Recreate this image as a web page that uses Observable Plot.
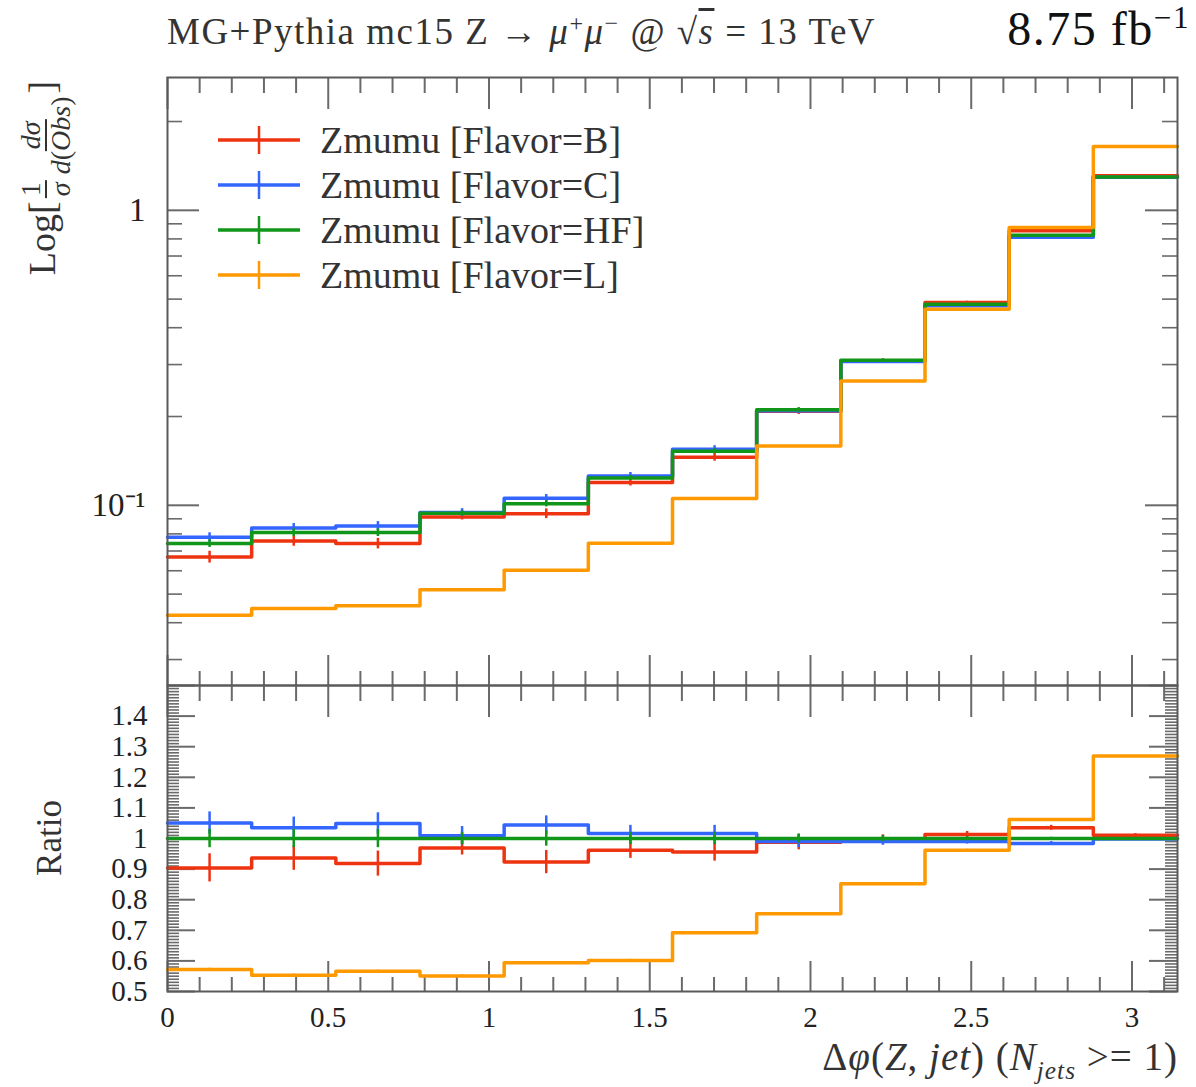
<!DOCTYPE html>
<html>
<head>
<meta charset="utf-8">
<script src="https://cdn.jsdelivr.net/npm/d3@7"></script>
<script src="https://cdn.jsdelivr.net/npm/@observablehq/plot@0.6"></script>
<style>
  body { margin: 0; background: #fff; }
  #wrap { position: relative; width: 1196px; height: 1087px; font-family: "Liberation Serif", serif; color: #222; overflow: hidden; }
  #top, #bottom { position: absolute; left: 0; }
  #top { top: 0; }
  #bottom { top: 685px; }
  .ov { position: absolute; white-space: nowrap; }
  .frac { display: inline-flex; flex-direction: column; align-items: center; vertical-align: middle; font-size: 28px !important; line-height: 28px; margin: 0 3px; }
  .frac span:first-child { border-bottom: 2px solid #333; padding: 0 2px; }
  .leg { position: absolute; left: 218px; display: flex; align-items: center; font-size: 38px; }
  .leg svg { margin-right: 20px; }
</style>
</head>
<body>
<div id="wrap">
  <div id="top"></div>
  <div id="bottom"></div>
</div>
<script>
// ---- data ----
const binEdges = [0, 0.2618, 0.5236, 0.7854, 1.0472, 1.3090, 1.5708, 1.8326, 2.0944, 2.3562, 2.6180, 2.8798, 3.1416];
const seriesNames = ["Zmumu [Flavor=B]", "Zmumu [Flavor=C]", "Zmumu [Flavor=HF]", "Zmumu [Flavor=L]"];
const seriesColors = ["#EE3311", "#3366FF", "#109618", "#FF9900"];

// normalised distribution 1/sigma dsigma/d(Obs)
const valB  = [0.0668, 0.0757, 0.0742, 0.0913, 0.0937, 0.1195, 0.1455, 0.2085, 0.309, 0.487, 0.852, 1.311];
const valC  = [0.0779, 0.0838, 0.0851, 0.0946, 0.1056, 0.1258, 0.1550, 0.2090, 0.307, 0.475, 0.810, 1.295];
const valHF = [0.0742, 0.0808, 0.0808, 0.0939, 0.1013, 0.1238, 0.1525, 0.2110, 0.310, 0.480, 0.823, 1.297];
const valL  = [0.0424, 0.0447, 0.0457, 0.0517, 0.0602, 0.0744, 0.1055, 0.1590, 0.264, 0.462, 0.874, 1.647];

// ratio to Flavor=HF
const ratioB  = [0.904, 0.936, 0.918, 0.969, 0.923, 0.962, 0.956, 0.988, 0.997, 1.013, 1.035, 1.011];
const ratioC  = [1.051, 1.035, 1.049, 1.009, 1.044, 1.016, 1.016, 0.990, 0.990, 0.990, 0.984, 0.998];
const ratioHF = [1, 1, 1, 1, 1, 1, 1, 1, 1, 1, 1, 1];
const ratioL  = [0.572, 0.553, 0.566, 0.551, 0.594, 0.601, 0.692, 0.754, 0.852, 0.962, 1.062, 1.270];

// relative uncertainties (error bars)
const errB  = [0.046, 0.040, 0.041, 0.023, 0.038, 0.027, 0.030, 0.025, 0.015, 0.010, 0.008, 0.005];
const errC  = [0.036, 0.035, 0.035, 0.030, 0.030, 0.027, 0.027, 0.020, 0.012, 0.008, 0.006, 0.004];
const errHF = [0.030, 0.030, 0.030, 0.020, 0.025, 0.020, 0.020, 0.015, 0.010, 0.006, 0.004, 0.003];
const errL  = [0.004, 0.004, 0.004, 0.004, 0.004, 0.004, 0.003, 0.003, 0.003, 0.003, 0.002, 0.002];

const xMajorTicks = [0, 0.5, 1, 1.5, 2, 2.5, 3];
const yTopMajorTicks = [0.1, 1];
const yTopTickLabels = ["10⁻¹", "1"];
const ratioMajorTicks = [0.5, 0.6, 0.7, 0.8, 0.9, 1.0, 1.1, 1.2, 1.3, 1.4];
const ratioTickLabels = ["0.5", "0.6", "0.7", "0.8", "0.9", "1", "1.1", "1.2", "1.3", "1.4"];

// ---- layout ----
const W = 1196, ML = 167, MR = 19;
const FW = W - ML - MR;
const topMarginTop = 77, topHeight = 685;
const FH1 = topHeight - topMarginTop;
const botHeight = 402, botMarginBottom = 96;
const FH2 = botHeight - botMarginBottom;
const frameColor = "#5a5a5a";
const tickColor = "#6a6a6a";
const fontFam = "'Liberation Serif', serif";

const vals = [valB, valC, valHF, valL];
const ratios = [ratioB, ratioC, ratioHF, ratioL];
const errs = [errB, errC, errHF, errL];

function stepData(v, s) {
  return binEdges.map((e, i) => ({x: e, y: v[Math.min(i, v.length - 1)], s}));
}
function errData(v, e, s) {
  return v.map((y, i) => ({x: (binEdges[i] + binEdges[i + 1]) / 2, lo: y * (1 - e[i]), hi: y * (1 + e[i]), s}));
}
function ratioErrData(r, e, s) {
  return r.map((y, i) => ({x: (binEdges[i] + binEdges[i + 1]) / 2, lo: y - e[i], hi: y + e[i], s}));
}

// tick value lists
const xMinor = d3.range(0, 32).map(i => i / 10).filter(v => !xMajorTicks.some(m => Math.abs(m - v) < 1e-9));
const logMinor = [];
for (const dec of [0.01, 0.1, 1]) for (let k = 2; k <= 9; k++) { const v = k * dec; if (v > 0.0245 && v < 2.82) logMinor.push(v); }
const ratioMinor = d3.range(50, 151).map(i => i / 100).filter(v => Math.abs(v * 10 - Math.round(v * 10)) > 1e-6);
const ratioMajorAll = d3.range(5, 16).map(i => i / 10);

function xTickMarks(FH) {
  return [
    Plot.tickX(xMinor, {x: d => d, stroke: tickColor, strokeWidth: 2, insetBottom: FH - 16}),
    Plot.tickX(xMajorTicks, {x: d => d, stroke: tickColor, strokeWidth: 2, insetBottom: FH - 32}),
    Plot.tickX(xMinor, {x: d => d, stroke: tickColor, strokeWidth: 2, insetTop: FH - 14}),
    Plot.tickX(xMajorTicks, {x: d => d, stroke: tickColor, strokeWidth: 2, insetTop: FH - 30})
  ];
}
function yTickMarks(minor, major, minorLen, majorLen) {
  return [
    Plot.tickY(minor, {y: d => d, stroke: tickColor, strokeWidth: 1.6, insetRight: FW - minorLen}),
    Plot.tickY(major, {y: d => d, stroke: tickColor, strokeWidth: 2, insetRight: FW - majorLen}),
    Plot.tickY(minor, {y: d => d, stroke: tickColor, strokeWidth: 1.6, insetLeft: FW - minorLen}),
    Plot.tickY(major, {y: d => d, stroke: tickColor, strokeWidth: 2, insetLeft: FW - majorLen})
  ];
}

const colorScale = {domain: seriesNames, range: seriesColors};

// ---- top panel ----
const topMarks = [
  ...xTickMarks(FH1),
  ...yTickMarks(logMinor, yTopMajorTicks, 15, 32),
  Plot.axisY(yTopMajorTicks, {tickSize: 0, tickPadding: 22, fontSize: 33, fontFamily: fontFam, fill: "#222",
    tickFormat: d => yTopTickLabels[yTopMajorTicks.indexOf(d)]})
];
seriesNames.forEach((s, i) => {
  topMarks.push(Plot.ruleX(errData(vals[i], errs[i], s), {x: "x", y1: "lo", y2: "hi", stroke: "s", strokeWidth: 2.5}));
  topMarks.push(Plot.line(stepData(vals[i], s), {x: "x", y: "y", stroke: "s", strokeWidth: 3.5, curve: "step-after"}));
});
topMarks.push(Plot.frame({stroke: frameColor, strokeWidth: 2}));

const topPlot = Plot.plot({
  width: W, height: topHeight,
  marginTop: topMarginTop, marginBottom: 0, marginLeft: ML, marginRight: MR,
  x: {domain: [0, binEdges[binEdges.length - 1]], axis: null},
  y: {type: "log", domain: [0.0245, 2.82], axis: null},
  color: colorScale,
  style: {fontFamily: fontFam, background: "transparent", overflow: "visible"},
  marks: topMarks
});
document.getElementById("top").appendChild(topPlot);

// ---- ratio panel ----
const botMarks = [
  ...xTickMarks(FH2),
  ...yTickMarks(ratioMinor, ratioMajorAll, 12, 28),
  Plot.axisY(ratioMajorTicks, {tickSize: 0, tickPadding: 20, fontSize: 29, fontFamily: fontFam, fill: "#222",
    tickFormat: d => ratioTickLabels[ratioMajorTicks.indexOf(d)]}),
  Plot.axisX(xMajorTicks, {tickSize: 0, tickPadding: 15, fontSize: 29, fontFamily: fontFam, fill: "#222", label: null,
    tickFormat: d => String(d)})
];
seriesNames.forEach((s, i) => {
  botMarks.push(Plot.ruleX(ratioErrData(ratios[i], errs[i], s), {x: "x", y1: "lo", y2: "hi", stroke: "s", strokeWidth: 2.5}));
  botMarks.push(Plot.line(stepData(ratios[i], s), {x: "x", y: "y", stroke: "s", strokeWidth: 3.5, curve: "step-after"}));
});
botMarks.push(Plot.frame({stroke: frameColor, strokeWidth: 2}));

const botPlot = Plot.plot({
  width: W, height: botHeight,
  marginTop: 0, marginBottom: botMarginBottom, marginLeft: ML, marginRight: MR,
  x: {domain: [0, binEdges[binEdges.length - 1]], axis: null},
  y: {domain: [0.5, 1.5], axis: null},
  color: colorScale,
  style: {fontFamily: fontFam, background: "transparent", overflow: "visible"},
  marks: botMarks
});
document.getElementById("bottom").appendChild(botPlot);

// ---- text overlays ----
const wrap = document.getElementById("wrap");
function ov(html, style) {
  const d = document.createElement("div");
  d.className = "ov";
  d.innerHTML = html;
  Object.assign(d.style, style);
  wrap.appendChild(d);
  return d;
}
ov('MG+Pythia mc15 Z → <i>μ</i><sup style="font-size:65%">+</sup><i>μ</i><sup style="font-size:65%">−</sup> @ √<span style="text-decoration:overline"><i>s</i></span> = 13 TeV',
  {left: "167px", top: "10px", fontSize: "37px", letterSpacing: "1.5px", color: "#333"});
ov('8.75 fb<sup style="font-size:65%">−1</sup>', {right: "6px", top: "0px", fontSize: "48px", letterSpacing: "1.5px", color: "#111"});

// y label top (rotated)
ov('Log[<span class="frac"><span>1</span><span><i>σ</i></span></span><span class="frac"><span><i>dσ</i></span><span><i>d</i>(<i>Obs</i>)</span></span>]',
  {left: "46px", top: "178px", fontSize: "38px", transform: "translate(-50%,-50%) rotate(-90deg)", color: "#333"});
// ratio label
ov('Ratio', {left: "50px", top: "838px", fontSize: "35px", transform: "translate(-50%,-50%) rotate(-90deg)", color: "#333"});
// x label
ov('Δ<i>φ</i>(<i>Z</i>, <i>jet</i>) (<i>N</i><sub style="font-size:65%"><i>jets</i></sub> &gt;= 1)',
  {right: "18px", top: "1034px", fontSize: "39px", letterSpacing: "1px", color: "#333"});

// legend
const legY = [140, 185, 230, 275];
seriesNames.forEach((s, i) => {
  const d = document.createElement("div");
  d.className = "leg";
  d.style.top = (legY[i] - 22) + "px";
  d.innerHTML = `<svg width="82" height="44"><line x1="0" x2="82" y1="22" y2="22" stroke="${seriesColors[i]}" stroke-width="3.5"/><line x1="41" x2="41" y1="8" y2="36" stroke="${seriesColors[i]}" stroke-width="2.5"/></svg><span style="color:#333">${s}</span>`;
  wrap.appendChild(d);
});
</script>
</body>
</html>
